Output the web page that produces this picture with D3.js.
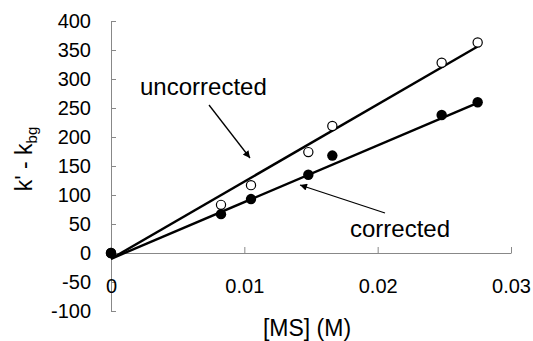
<!DOCTYPE html>
<html>
<head>
<meta charset="utf-8">
<script src="https://cdn.jsdelivr.net/npm/d3@7"></script>
<style>
  body { margin: 0; background: #fff; }
  svg { display: block; font-family: 'Liberation Sans', Arial, sans-serif; }
  .axis path, .axis line { stroke: #888; stroke-width: 1; }
  .axis text { fill: #000; font-size: 20px; }
</style>
</head>
<body>
<div id="chart"></div>
<script>
// values
const msConc = [0, 0.00825, 0.0105, 0.0148, 0.0166, 0.0248, 0.0275];
const uncorrected = [0, 83, 117, 174, 219, 328, 363];
const corrected = [0, 67, 93, 135, 168, 238, 260];

// trendlines as drawn (two end points each)
const fitX = [0, 0.0275];
const uncorrectedFit = [-10, 356];
const correctedFit = [-10, 259];

const xTicks = [0, 0.01, 0.02, 0.03];
const yTicks = [-100, -50, 0, 50, 100, 150, 200, 250, 300, 350, 400];

const width = 533;
const height = 341;
const plotLeft = 111;
const plotRight = 511;
const plotTop = 21;
const plotBottom = 311;

const svg = d3.select('#chart')
              .append('svg')
              .attr('width', width)
              .attr('height', height);

const x = d3.scaleLinear()
            .domain([0, 0.03])
            .range([plotLeft, plotRight]);
const y = d3.scaleLinear()
            .domain([-100, 400])
            .range([plotBottom, plotTop]);

// Y axis (ticks pointing inwards)
const yAxis = d3.axisLeft(y)
                .tickValues(yTicks)
                .tickSizeInner(-5)
                .tickSizeOuter(0)
                .tickPadding(20)
                .tickFormat((d) => String(d));
svg.append('g')
   .attr('class', 'axis')
   .attr('transform', `translate(${plotLeft}, 0)`)
   .call(yAxis);

// X axis at y = 0, ticks pointing up, labels further down
const xAxis = d3.axisBottom(x)
                .tickValues(xTicks)
                .tickSizeInner(-6)
                .tickSizeOuter(0)
                .tickPadding(26)
                .tickFormat((d) => d === 0 ? '0' : d3.format('.2f')(d));
const gx = svg.append('g')
   .attr('class', 'axis')
   .attr('transform', `translate(0, ${y(0)})`)
   .call(xAxis);
gx.selectAll('.tick').filter((d) => d === 0).select('line').remove();

// trendlines
const line = d3.line()
               .x((d) => x(d[0]))
               .y((d) => y(d[1]));
[uncorrectedFit, correctedFit].forEach((fit) => {
  svg.append('path')
     .attr('d', line(fitX.map((v, i) => [v, fit[i]])))
     .attr('fill', 'none')
     .attr('stroke', '#000')
     .attr('stroke-width', 2.4);
});

// markers
svg.append('g')
   .selectAll('circle')
   .data(msConc.map((v, i) => [v, uncorrected[i]]))
   .enter()
   .append('circle')
   .attr('cx', (d) => x(d[0]))
   .attr('cy', (d) => y(d[1]))
   .attr('r', 4.6)
   .attr('fill', '#fff')
   .attr('stroke', '#000')
   .attr('stroke-width', 1.2);

svg.append('g')
   .selectAll('circle')
   .data(msConc.map((v, i) => [v, corrected[i]]))
   .enter()
   .append('circle')
   .attr('cx', (d) => x(d[0]))
   .attr('cy', (d) => y(d[1]))
   .attr('r', 5.2)
   .attr('fill', '#000');

// arrows + labels
svg.append('defs')
   .append('marker')
   .attr('id', 'head')
   .attr('viewBox', '0 0 10 10')
   .attr('refX', 10)
   .attr('refY', 5)
   .attr('markerWidth', 9)
   .attr('markerHeight', 7)
   .attr('markerUnits', 'userSpaceOnUse')
   .attr('orient', 'auto')
   .append('path')
   .attr('d', 'M0,0L10,5L0,10Z')
   .attr('fill', '#000');

svg.append('line')
   .attr('x1', 209).attr('y1', 105)
   .attr('x2', 250).attr('y2', 158)
   .attr('stroke', '#000')
   .attr('stroke-width', 1.3)
   .attr('marker-end', 'url(#head)');
svg.append('line')
   .attr('x1', 385).attr('y1', 213)
   .attr('x2', 300).attr('y2', 185)
   .attr('stroke', '#000')
   .attr('stroke-width', 1.3)
   .attr('marker-end', 'url(#head)');

svg.append('text')
   .attr('x', 140).attr('y', 95)
   .attr('font-size', 24)
   .text('uncorrected');
svg.append('text')
   .attr('x', 350).attr('y', 237)
   .attr('font-size', 24)
   .text('corrected');

// axis titles
const yTitle = svg.append('text')
   .attr('transform', `translate(32, 159) rotate(-90)`)
   .attr('text-anchor', 'middle')
   .attr('font-size', 23);
yTitle.append('tspan').text("k' - k");
yTitle.append('tspan').attr('font-size', 15).attr('dy', 5).text('bg');

svg.append('text')
   .attr('x', 307).attr('y', 336)
   .attr('text-anchor', 'middle')
   .attr('font-size', 23)
   .text('[MS] (M)');
</script>
</body>
</html>
